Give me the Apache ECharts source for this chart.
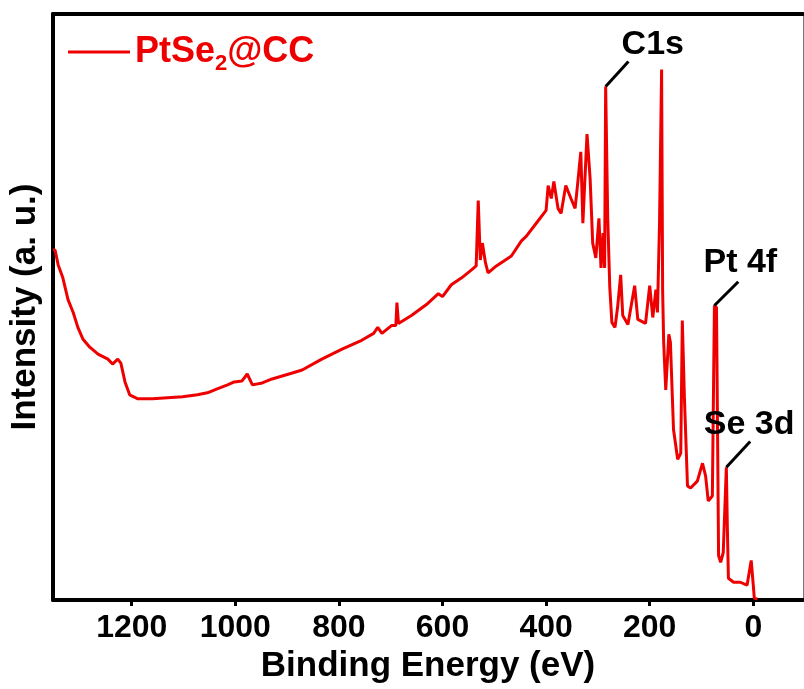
<!DOCTYPE html>
<html>
<head>
<meta charset="utf-8">
<title>PtSe2@CC XPS survey</title>
<script src="https://cdn.jsdelivr.net/npm/echarts@6/dist/echarts.min.js"></script>
</head>
<body style="margin:0">
<div id="main" style="width:804px;height:689px;"></div>
<script>
// binding energy (eV) / intensity (a.u.)
var energy = [1352, 1348, 1342, 1333, 1323, 1313, 1304, 1294, 1281, 1265, 1246, 1237, 1227, 1221, 1213, 1204,
    1188, 1160, 1131, 1102, 1073, 1054, 1035, 1015, 1002, 987, 977, 967, 948, 929, 890, 871, 833, 794, 756,
    733, 725, 717, 698, 690, 688, 685, 660, 631, 608, 600, 583, 563, 544, 535, 531, 527, 523, 517, 512, 496,
    467, 448, 438, 419, 400, 396, 390, 385, 377, 371, 362, 352, 344, 340, 333, 329, 321, 315, 310, 304, 298,
    294, 290, 287, 285, 281, 277, 273, 267, 262, 256, 252, 242, 229, 223, 208, 200, 194, 188, 185, 181, 177,
    175, 173, 169, 163, 160, 154, 146, 140, 137, 133, 127, 121, 108, 98, 92, 87, 79, 75, 71, 69, 67, 63, 58,
    52, 50, 48, 38, 25, 12, 4, 0, -2, -8];
var intensity = [353, 353, 338, 325, 303, 290, 275, 263, 255, 248, 243, 238, 243, 239, 220, 207,
    203, 203, 204, 205, 207, 209, 213, 217, 220, 221, 228, 217, 219, 223, 229, 232, 243, 253, 262,
    269, 275, 269, 277, 277, 300, 279, 287, 298, 309, 306, 318, 325, 333, 337, 403, 343, 360, 340, 330, 337,
    347, 362, 367, 380, 393, 418, 405, 422, 395, 390, 418, 405, 395, 415, 452, 380, 470, 425, 360, 345, 385,
    335, 370, 335, 518, 385, 315, 280, 275, 295, 328, 287, 278, 317, 283, 279, 317, 285, 313, 290, 380, 535,
    312, 260, 212, 268, 260, 172, 142, 148, 282, 205, 115, 113, 120, 138, 125, 100, 105, 297, 295, 172, 45, 38, 48,
    134, 72, 22, 18, 18, 15, 40, 15, 2, 1];
var xTicks = [0, 200, 400, 600, 800, 1000, 1200];

// peak labels: peak top, end of leader line, label centre (data coords)
var peakNames = ['C1s', 'Pt 4f', 'Se 3d'];
var peakTops = [[285, 518], [75, 297], [52, 134]];
var leaderEnds = [[241, 543], [29, 321], [6, 160]];
var labelAt = [[194, 560], [25, 340], [8, 177]];

var FONT = 'Liberation Sans, Arial, sans-serif';
var RED = '#ee0000';

var chart = echarts.init(document.getElementById('main'));

var points = energy.map(function (e, i) { return [e, intensity[i]]; });

var option = {
    animation: false,
    grid: {left: 50, right: 1, top: 14, bottom: 84},
    legend: {
        left: 63, top: 24,
        icon: 'rect', itemWidth: 62, itemHeight: 3,
        formatter: function () { return '{a|PtSe}{s|2}{a|@CC}'; },
        textStyle: {
            color: RED,
            rich: {
                a: {fontSize: 36, fontWeight: 'bold', fontFamily: FONT, color: RED, lineHeight: 40},
                s: {fontSize: 22, fontWeight: 'bold', fontFamily: FONT, color: RED, lineHeight: 40, padding: [24, 0, 0, 0]}
            }
        }
    },
    xAxis: [{
        type: 'value', inverse: true, min: -96, max: 1352,
        name: 'Binding Energy (eV)', nameLocation: 'middle', nameGap: 40,
        nameTextStyle: {fontSize: 35, fontWeight: 'bold', fontFamily: FONT, color: '#000'},
        axisLine: {onZero: false, lineStyle: {color: '#000', width: 4}},
        axisTick: {customValues: xTicks, length: 6, lineStyle: {color: '#000', width: 3}},
        axisLabel: {
            customValues: xTicks, margin: 12, fontSize: 32, fontWeight: 'bold', fontFamily: FONT, color: '#000',
            formatter: function (v) { return String(v); }
        },
        splitLine: {show: false}
    }, {
        type: 'value', inverse: true, min: -96, max: 1352, position: 'top',
        axisLine: {onZero: false, lineStyle: {color: '#000', width: 4}},
        axisTick: {show: false}, axisLabel: {show: false}, splitLine: {show: false}
    }],
    yAxis: [{
        type: 'value', min: 0, max: 591, position: 'left',
        name: 'Intensity (a. u.)', nameLocation: 'middle', nameGap: 10,
        nameTextStyle: {fontSize: 35, fontWeight: 'bold', fontFamily: FONT, color: '#000'},
        axisLine: {show: true, onZero: false, lineStyle: {color: '#000', width: 4}},
        axisTick: {show: false}, axisLabel: {show: false}, splitLine: {show: false}
    }, {
        type: 'value', min: 0, max: 591, position: 'right',
        axisLine: {show: true, onZero: false, lineStyle: {color: '#777', width: 1}},
        axisTick: {show: false}, axisLabel: {show: false}, splitLine: {show: false}
    }],
    series: [{
        name: 'PtSe2@CC', type: 'line', data: points,
        showSymbol: false, color: RED,
        lineStyle: {color: RED, width: 3}
    }]
};
chart.setOption(option);

// peak annotations positioned through the axes
var graphics = [];
peakNames.forEach(function (name, i) {
    var p0 = chart.convertToPixel({seriesIndex: 0}, peakTops[i]);
    var p1 = chart.convertToPixel({seriesIndex: 0}, leaderEnds[i]);
    var pt = chart.convertToPixel({seriesIndex: 0}, labelAt[i]);
    graphics.push({
        type: 'line', z: 10,
        shape: {x1: p0[0], y1: p0[1], x2: p1[0], y2: p1[1]},
        style: {stroke: '#000', lineWidth: 3}
    });
    graphics.push({
        type: 'text', z: 10, x: pt[0], y: pt[1],
        style: {text: name, fill: '#000', font: 'bold 34px ' + FONT, align: 'center', verticalAlign: 'middle'}
    });
});
chart.setOption({graphic: graphics});
</script>
</body>
</html>
